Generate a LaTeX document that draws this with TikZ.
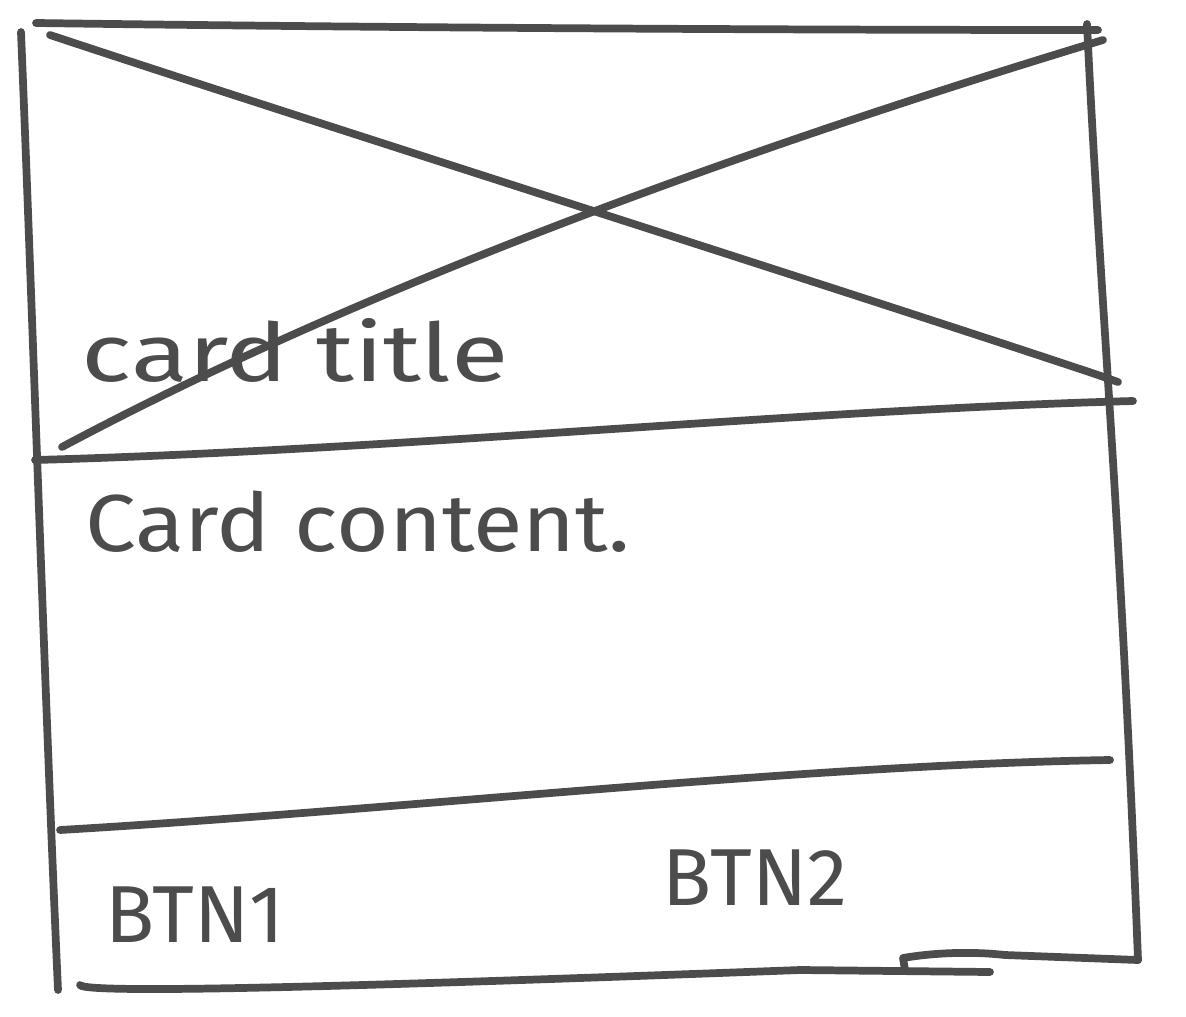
\documentclass[tikz,border=0pt]{standalone}
\usepackage{fontspec}
\setmainfont{Fira Sans}
\begin{document}
\begin{tikzpicture}[x=0.02cm,y=-0.02cm,
  pen/.style={draw=black!70, line width=4.4pt, line cap=round, line join=round},
  hand/.style={font=\fontsize{46}{50}\selectfont, text=black!70, inner sep=0pt}]
\useasboundingbox[fill=white] (0,0) rectangle (1186,1017);
% corners
\coordinate (tl) at (36,23);
\coordinate (tr) at (1098,30);
\coordinate (rtop) at (1087,24);
\coordinate (hl) at (35,460);
\coordinate (hr) at (1133,401);
\coordinate (fl) at (60,830);
\coordinate (fr) at (1110,760);
\coordinate (br) at (1138,960);
% outer box
\draw[pen] (21,32) .. controls (32,300) and (45,700) .. (58,990);
\draw[pen] (tl) .. controls (400,28) and (800,30) .. (tr);
\draw[pen] (rtop) .. controls (1100,300) and (1120,500) .. (br);
\draw[pen] (br) -- (1005,955) .. controls (960,950) and (920,955) .. (903,958) -- (905,970);
\draw[pen] (80,985) .. controls (85,995) and (400,985) .. (800,970) -- (990,972);
% header divider
\draw[pen] (hl) .. controls (400,450) and (800,410) .. (hr);
% image placeholder cross
\draw[pen] (50,35) .. controls (300,118) and (850,292) .. (1098,375) -- (1118,382);
\draw[pen] (62,447) .. controls (300,320) and (640,180) .. (1103,40);
% footer divider
\draw[pen] (fl) .. controls (400,810) and (800,765) .. (fr);
% texts
\node[hand, xscale=1.3] (title) at (295,350) {card title};
\node[hand, xscale=1.12] (content) at (358,522) {Card content.};
\node[hand] (btn1) at (195,915) {BTN1};
\node[hand] (btn2) at (755,878) {BTN2};
\end{tikzpicture}
\end{document}
